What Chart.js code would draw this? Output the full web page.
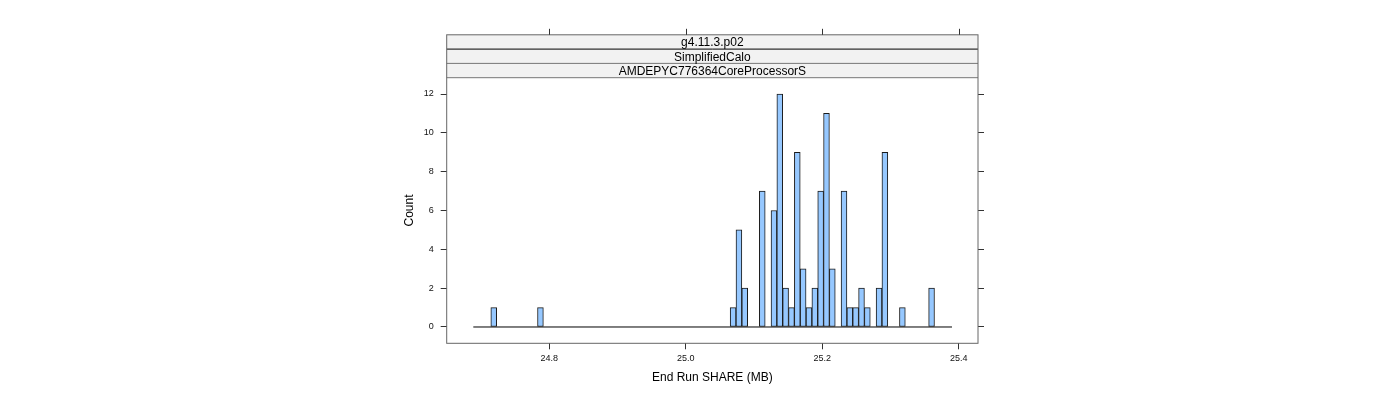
<!DOCTYPE html>
<html>
<head>
<meta charset="utf-8">
<script src="https://cdn.jsdelivr.net/npm/chart.js@4.4.1/dist/chart.umd.min.js"></script>
<style>
    body { margin: 0; background: #fff; }
    canvas { display: block; }
</style>
</head>
<body>
<canvas id="histChart" width="1400" height="400"></canvas>
<script>
// histograma de End Run SHARE, un panel de lattice con tres tiras

const stripLabels = ['g4.11.3.p02', 'SimplifiedCalo', 'AMDEPYC776364CoreProcessorS'];

// cortes del histograma (inicio y ancho de cada intervalo)
const binStart = 24.6886;
const binWidth = 0.008556;

// cuentas por intervalo (82 intervalos)
const binCounts = [
    0, 0, 0, 1, 0, 0, 0, 0, 0, 0,
    0, 1, 0, 0, 0, 0, 0, 0, 0, 0,
    0, 0, 0, 0, 0, 0, 0, 0, 0, 0,
    0, 0, 0, 0, 0, 0, 0, 0, 0, 0,
    0, 0, 0, 0, 1, 5, 2, 0, 0, 7,
    0, 6, 12, 2, 1, 9, 3, 1, 2, 7,
    11, 3, 0, 7, 1, 1, 2, 1, 0, 2,
    9, 0, 0, 1, 0, 0, 0, 0, 2, 0,
    0, 0
];

const shareTicks = [24.8, 25.0, 25.2, 25.4];
const countTicks = [0, 2, 4, 6, 8, 10, 12];

const xLimits = [24.6496, 25.4283];
const yLimits = [-0.84, 12.84];

Chart.defaults.font.family = '"Liberation Sans", Arial, sans-serif';
Chart.defaults.color = '#111';

const binEnd = binStart + binWidth * binCounts.length;
const barPoints = binCounts.map((c, i) => ({ x: binStart + binWidth * (i + 0.5), y: c }));

//tiras y caja del panel
const stripPlugin = {
    id: 'latticeStrips',
    afterDraw(chart) {
        const ctx = chart.ctx;
        const area = chart.chartArea;
        const stripH = 14.3;
        const top = area.top - stripH * stripLabels.length;
        ctx.save();
        ctx.fillStyle = '#f2f2f2';
        ctx.fillRect(area.left, top, area.right - area.left, area.top - top);

        // separadores
        ctx.lineWidth = 1;
        stripLabels.forEach((_, i) => {
            if (i === 0) return;
            const y = top + stripH * i;
            ctx.strokeStyle = i === 1 ? '#000' : '#777';
            ctx.beginPath();
            ctx.moveTo(area.left, y);
            ctx.lineTo(area.right, y);
            ctx.stroke();
        });
        ctx.strokeStyle = '#777';
        ctx.beginPath();
        ctx.moveTo(area.left, area.top);
        ctx.lineTo(area.right, area.top);
        ctx.stroke();

        // caja completa
        ctx.strokeStyle = '#666';
        ctx.strokeRect(area.left, top, area.right - area.left, area.bottom - top);

        // textos de las tiras
        ctx.fillStyle = '#000';
        ctx.font = '12px "Liberation Sans", Arial, sans-serif';
        ctx.textAlign = 'center';
        ctx.textBaseline = 'middle';
        const cx = (area.left + area.right) / 2;
        stripLabels.forEach((label, i) => {
            ctx.fillText(label, cx, top + stripH * i + stripH / 2 + 1);
        });

        // marcas superiores
        const xs = chart.scales.x;
        ctx.strokeStyle = '#333';
        xs.ticks.forEach(t => {
            const px = Math.round(xs.getPixelForValue(t.value)) + 0.5;
            ctx.beginPath();
            ctx.moveTo(px, top);
            ctx.lineTo(px, top - 6);
            ctx.stroke();
        });
        ctx.restore();
    }
};

const fixedTicks = values => scale => {
    scale.ticks = values.map(v => ({ value: v }));
};

new Chart(document.getElementById('histChart'), {
    type: 'bar',
    data: {
        datasets: [
            {
                type: 'bar',
                data: barPoints,
                backgroundColor: 'rgb(150, 200, 255)',
                borderColor: '#1a1a1a',
                borderWidth: 1,
                borderSkipped: false,
                barPercentage: 1,
                categoryPercentage: 1,
                order: 2
            },
            {
                type: 'line',
                data: [{ x: binStart, y: 0 }, { x: binEnd, y: 0 }],
                borderColor: '#000',
                borderWidth: 1,
                pointRadius: 0,
                order: 3
            }
        ]
    },
    options: {
        responsive: false,
        animation: false,
        layout: { padding: { left: 395, right: 402, top: 77.7, bottom: 0 } },
        plugins: {
            legend: { display: false },
            tooltip: { enabled: false }
        },
        scales: {
            x: {
                type: 'linear',
                position: 'bottom',
                min: xLimits[0],
                max: xLimits[1],
                offset: false,
                afterBuildTicks: fixedTicks(shareTicks),
                afterFit: s => { s.height = 56.7; },
                border: { display: false },
                grid: { drawOnChartArea: false, offset: false, tickLength: 6, tickColor: '#333' },
                ticks: {
                    padding: 4,
                    maxRotation: 0,
                    autoSkip: false,
                    font: { size: 9 },
                    callback: v => v.toFixed(1)
                },
                title: {
                    display: true,
                    text: 'End Run SHARE (MB)',
                    font: { size: 12 },
                    color: '#000',
                    padding: { top: 0, bottom: 15 }
                }
            },
            y: {
                position: 'left',
                min: yLimits[0],
                max: yLimits[1],
                afterBuildTicks: fixedTicks(countTicks),
                afterFit: s => { s.width = 51.7; },
                border: { display: false },
                grid: { drawOnChartArea: false, tickLength: 6, tickColor: '#333' },
                ticks: { padding: 7, autoSkip: false, font: { size: 9 } },
                title: {
                    display: true,
                    text: 'Count',
                    font: { size: 12 },
                    color: '#000',
                    padding: { top: 7, bottom: 0 }
                }
            },
            y2: {
                position: 'right',
                min: yLimits[0],
                max: yLimits[1],
                afterBuildTicks: fixedTicks(countTicks),
                afterFit: s => { s.width = 20; },
                border: { display: false },
                grid: { drawOnChartArea: false, tickLength: 6, tickColor: '#333' },
                ticks: { autoSkip: false, font: { size: 9 }, callback: () => '' }
            }
        }
    },
    plugins: [stripPlugin]
});
</script>
</body>
</html>
